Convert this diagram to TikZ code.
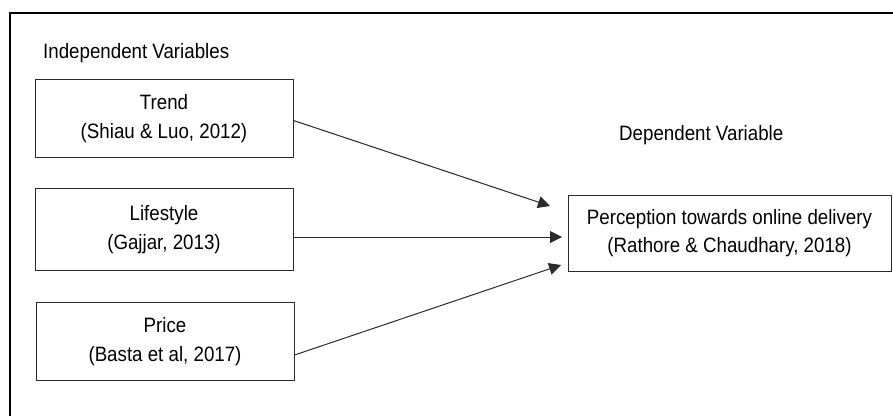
\documentclass[tikz,border=0pt]{standalone}
\usepackage{fontspec}
\setmainfont[FakeStretch=0.9]{Liberation Sans}
\usetikzlibrary{arrows.meta, positioning}
\definecolor{cline}{HTML}{2B2B2B}
\tikzset{
  every picture/.style={font=\fontsize{20.8pt}{28.5pt}\selectfont},
  varbox/.style={draw=cline, line width=1pt, align=center, minimum width=258pt, minimum height=78pt, inner sep=0pt},
  arrow/.style={-{Triangle[length=12pt, width=12pt]}, draw=cline, line width=1pt},
  heading/.style={anchor=west, inner sep=0pt},
}

\begin{document}
\begin{tikzpicture}[x=1pt, y=-1pt]
  \useasboundingbox (0,0) rectangle (893,416);
  % ---- frame (top and left edge only)
  \draw[black, line width=2pt] (10,416) -- (10,13) -- (893,13);
  % ---- independent side
  \node[heading] (indep) at (43,53) {Independent Variables};
  \node[varbox] (trend) at (164,118.5) {Trend\\(Shiau \& Luo, 2012)};
  \node[varbox, minimum height=82pt] (life) at (164,229.5) {Lifestyle\\(Gajjar, 2013)};
  \node[varbox] (price) at (165,341.5) {Price\\(Basta et al, 2017)};
  % ---- dependent side
  \node[heading] (dephead) at (619,135) {Dependent Variable};
  \node[varbox, minimum width=323pt, minimum height=76pt] (dep) at (729.5,233) {Perception towards online delivery\\(Rathore \& Chaudhary, 2018)};
  \coordinate (tipA) at (550,206);
  \coordinate (tipB) at (562,237);
  \coordinate (tipC) at (561,265);
  \draw[arrow] ([yshift=-2pt]trend.east) -- (tipA);
  \draw[arrow] ([yshift=-7.5pt]life.east) -- (tipB);
  \draw[arrow] ([yshift=-13.5pt]price.east) -- (tipC);
\end{tikzpicture}
\end{document}
